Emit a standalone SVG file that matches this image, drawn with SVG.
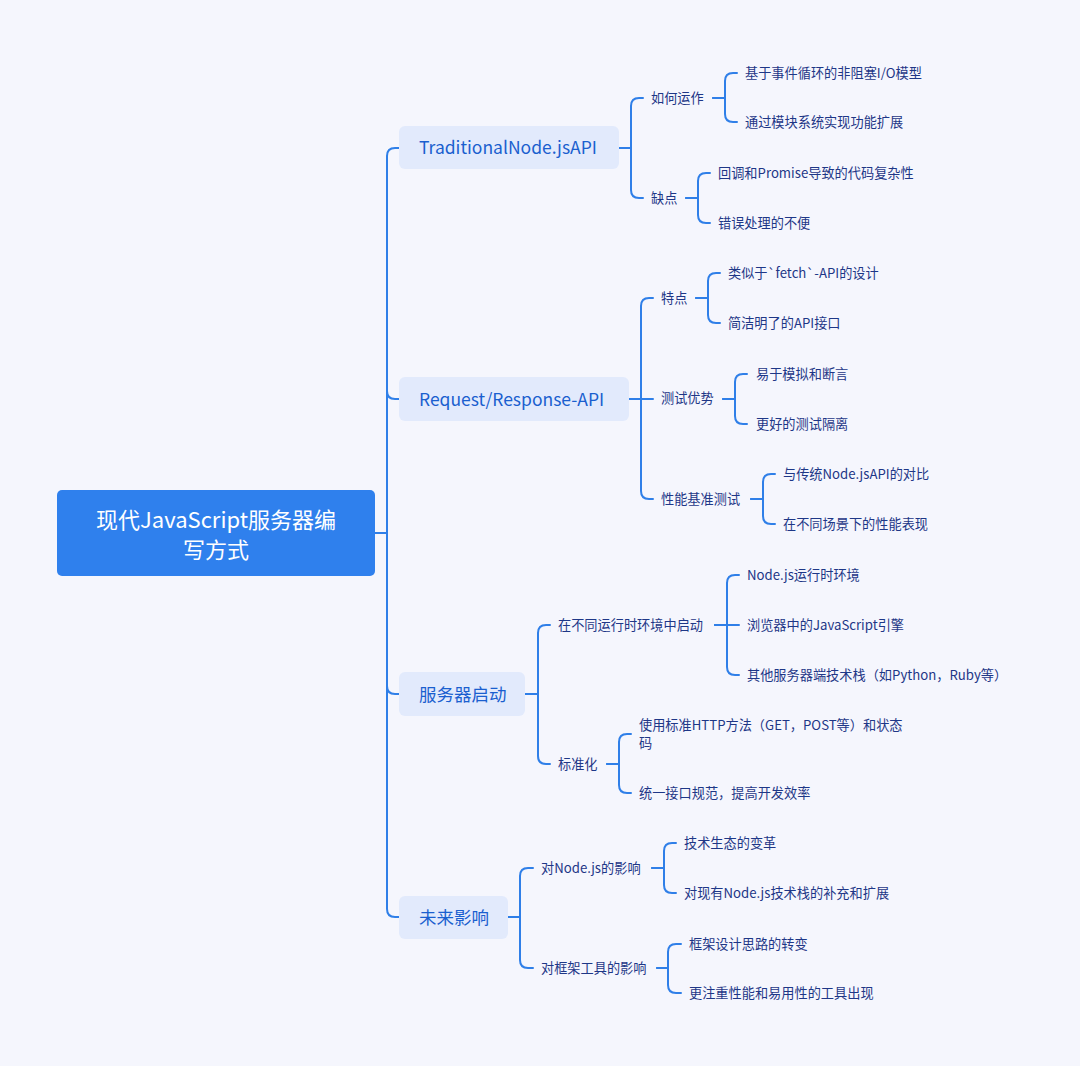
<svg xmlns="http://www.w3.org/2000/svg" width="1080" height="1066" viewBox="0 0 1080 1066">
<style>
.bg{fill:#F5F6FD}
.root{fill:#2F80ED}
.l1{fill:#E2EAFC}
text{font-family:"Noto Sans CJK SC","Noto Sans",sans-serif;dominant-baseline:central}
.tr{fill:#FFFFFF;font-size:22px;text-anchor:middle}
.t1{fill:#1A5FCF;font-size:17.5px}
.t2{fill:#1E3787;font-size:13.2px}
.c{fill:none;stroke:#2F7FE8;stroke-width:2;stroke-linecap:round;stroke-linejoin:round}
</style>
<rect class="bg" x="0" y="0" width="1080" height="1066"/>
<g id="connectors">
<path class="c" d="M375,533 H387 V156 Q387,148 395,148 H399"/>
<path class="c" d="M375,533 H387 V391 Q387,399 395,399 H399"/>
<path class="c" d="M375,533 H387 V686 Q387,694 395,694 H399"/>
<path class="c" d="M375,533 H387 V909 Q387,917 395,917 H399"/>
<path class="c" d="M619,148 H631 V106 Q631,98 639,98 H643"/>
<path class="c" d="M619,148 H631 V190 Q631,198 639,198 H643"/>
<path class="c" d="M713,98 H725 V81 Q725,73 733,73 H737"/>
<path class="c" d="M713,98 H725 V114 Q725,122 733,122 H737"/>
<path class="c" d="M686,198 H698 V181 Q698,173 706,173 H710"/>
<path class="c" d="M686,198 H698 V215 Q698,223 706,223 H710"/>
<path class="c" d="M629,399 H641 V306 Q641,298 649,298 H653"/>
<path class="c" d="M629,399 H653"/>
<path class="c" d="M629,399 H641 V491 Q641,499 649,499 H653"/>
<path class="c" d="M696,298 H708 V281 Q708,273 716,273 H720"/>
<path class="c" d="M696,298 H708 V315 Q708,323 716,323 H720"/>
<path class="c" d="M723,399 H735 V382 Q735,374 743,374 H747"/>
<path class="c" d="M723,399 H735 V416 Q735,424 743,424 H747"/>
<path class="c" d="M751,499 H763 V482 Q763,474 771,474 H775"/>
<path class="c" d="M751,499 H763 V516 Q763,524 771,524 H775"/>
<path class="c" d="M525,694 H538 V633 Q538,625 546,625 H550"/>
<path class="c" d="M525,694 H538 V756 Q538,764 546,764 H550"/>
<path class="c" d="M715,625 H727 V583 Q727,575 735,575 H739"/>
<path class="c" d="M715,625 H739"/>
<path class="c" d="M715,625 H727 V667 Q727,675 735,675 H739"/>
<path class="c" d="M607,764 H619 V742 Q619,734 627,734 H631"/>
<path class="c" d="M607,764 H619 V785 Q619,793 627,793 H631"/>
<path class="c" d="M508,917 H520 V876 Q520,868 528,868 H533"/>
<path class="c" d="M508,917 H520 V960 Q520,968 528,968 H533"/>
<path class="c" d="M652,868 H664 V851 Q664,843 672,843 H676"/>
<path class="c" d="M652,868 H664 V885 Q664,893 672,893 H676"/>
<path class="c" d="M657,968 H668 V952 Q668,944 676,944 H681"/>
<path class="c" d="M657,968 H668 V985 Q668,993 676,993 H681"/>
</g>
<g id="root">
<rect class="root" x="57" y="490" width="318" height="86" rx="5"/>
<text class="tr" x="216" y="517.5">现代JavaScript服务器编</text>
<text class="tr" x="216" y="547.5">写方式</text>
</g>
<g id="n-traditional">
<rect class="l1" x="399" y="126" width="220" height="43" rx="6"/>
<text class="t1" x="419" y="146.5">TraditionalNode.jsAPI</text>
</g>
<g id="n-howworks"><text class="t2" x="651" y="97">如何运作</text></g>
<g id="n-eventloop"><text class="t2" x="745" y="72">基于事件循环的非阻塞I/O模型</text></g>
<g id="n-modules"><text class="t2" x="745" y="121">通过模块系统实现功能扩展</text></g>
<g id="n-cons"><text class="t2" x="651" y="197">缺点</text></g>
<g id="n-callback"><text class="t2" x="718" y="172">回调和Promise导致的代码复杂性</text></g>
<g id="n-errors"><text class="t2" x="718" y="222">错误处理的不便</text></g>
<g id="n-reqres">
<rect class="l1" x="399" y="377" width="230" height="44" rx="6"/>
<text class="t1" x="419" y="398">Request/Response-API</text>
</g>
<g id="n-features"><text class="t2" x="661" y="297">特点</text></g>
<g id="n-fetch"><text class="t2" x="728" y="272">类似于`fetch`-API的设计</text></g>
<g id="n-concise"><text class="t2" x="728" y="322">简洁明了的API接口</text></g>
<g id="n-testing"><text class="t2" x="661" y="397">测试优势</text></g>
<g id="n-mock"><text class="t2" x="756" y="373">易于模拟和断言</text></g>
<g id="n-isolation"><text class="t2" x="756" y="423">更好的测试隔离</text></g>
<g id="n-bench"><text class="t2" x="661" y="498">性能基准测试</text></g>
<g id="n-compare"><text class="t2" x="783" y="473">与传统Node.jsAPI的对比</text></g>
<g id="n-scenarios"><text class="t2" x="783" y="523">在不同场景下的性能表现</text></g>
<g id="n-startup">
<rect class="l1" x="399" y="672" width="126" height="44" rx="6"/>
<text class="t1" x="419" y="693">服务器启动</text>
</g>
<g id="n-runtimes"><text class="t2" x="558" y="624">在不同运行时环境中启动</text></g>
<g id="n-node"><text class="t2" x="747" y="574">Node.js运行时环境</text></g>
<g id="n-browser"><text class="t2" x="747" y="624">浏览器中的JavaScript引擎</text></g>
<g id="n-other"><text class="t2" x="747" y="674">其他服务器端技术栈（如Python，Ruby等）</text></g>
<g id="n-standard"><text class="t2" x="558" y="763">标准化</text></g>
<g id="n-http"><text class="t2" x="639" y="724">使用标准HTTP方法（GET，POST等）和状态</text><text class="t2" x="639" y="742">码</text></g>
<g id="n-unify"><text class="t2" x="639" y="792">统一接口规范，提高开发效率</text></g>
<g id="n-future">
<rect class="l1" x="399" y="896" width="109" height="43" rx="6"/>
<text class="t1" x="419" y="916.5">未来影响</text>
</g>
<g id="n-onnode"><text class="t2" x="541" y="867">对Node.js的影响</text></g>
<g id="n-eco"><text class="t2" x="684" y="842">技术生态的变革</text></g>
<g id="n-complement"><text class="t2" x="684" y="892">对现有Node.js技术栈的补充和扩展</text></g>
<g id="n-onframework"><text class="t2" x="541" y="967">对框架工具的影响</text></g>
<g id="n-design"><text class="t2" x="689" y="943">框架设计思路的转变</text></g>
<g id="n-perf"><text class="t2" x="689" y="992">更注重性能和易用性的工具出现</text></g>
</svg>
